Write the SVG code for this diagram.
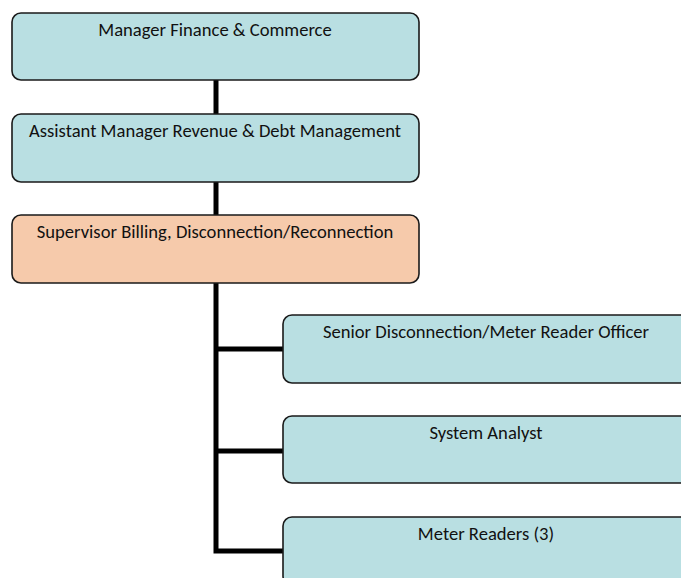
<svg xmlns="http://www.w3.org/2000/svg" width="681" height="578" viewBox="0 0 681 578">
  <style>
    .box { fill: #b9dfe2; stroke: #1a1a1a; stroke-width: 1.6; }
    .hl { fill: #f6caab; }
    .label { font-family: "Carlito", "Open Sans", "Liberation Sans", sans-serif; font-size: 18.6px; fill: #111; text-anchor: middle; }
    .link { stroke: #000; stroke-width: 5; fill: none; }
  </style>
  <rect width="681" height="578" fill="#fff"/>
  <g id="connectors">
    <line class="link" x1="216" y1="80" x2="216" y2="115"/>
    <line class="link" x1="216" y1="182" x2="216" y2="216"/>
    <polyline class="link" points="216,283 216,551 283,551"/>
    <line class="link" x1="214" y1="349" x2="283" y2="349"/>
    <line class="link" x1="214" y1="451" x2="283" y2="451"/>
  </g>
  <g id="manager-finance">
    <rect class="box" x="12" y="13" width="407" height="67" rx="9"/>
    <text class="label" x="215" y="36">Manager Finance &amp; Commerce</text>
  </g>
  <g id="assistant-manager">
    <rect class="box" x="12" y="114" width="407" height="68" rx="9"/>
    <text class="label" x="215" y="137">Assistant Manager Revenue &amp; Debt Management</text>
  </g>
  <g id="supervisor-billing">
    <rect class="box hl" x="12" y="215" width="407" height="68" rx="9"/>
    <text class="label" x="215" y="238">Supervisor Billing, Disconnection/Reconnection</text>
  </g>
  <g id="senior-officer">
    <rect class="box" x="283" y="315" width="407" height="68" rx="9"/>
    <text class="label" x="486" y="338">Senior Disconnection/Meter Reader Officer</text>
  </g>
  <g id="system-analyst">
    <rect class="box" x="283" y="416" width="407" height="67" rx="9"/>
    <text class="label" x="486" y="439">System Analyst</text>
  </g>
  <g id="meter-readers">
    <rect class="box" x="283" y="517" width="407" height="68" rx="9"/>
    <text class="label" x="486" y="540">Meter Readers (3)</text>
  </g>
</svg>
